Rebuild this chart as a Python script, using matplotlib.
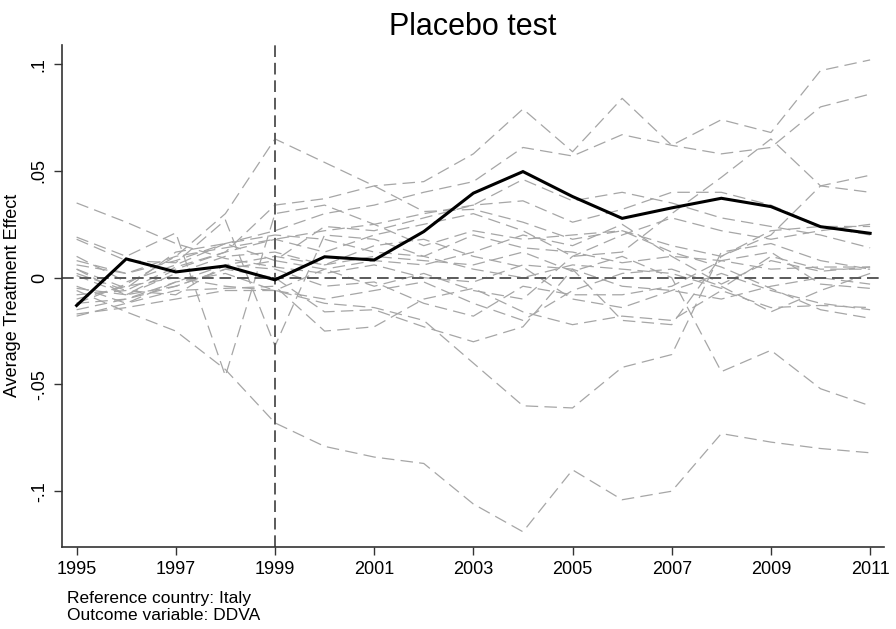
import matplotlib
matplotlib.use("Agg")
import matplotlib.pyplot as plt

plt.rcParams['font.family'] = ['Liberation Sans', 'DejaVu Sans']

# anni e linea del paese trattato (Italia)
anni = list(range(1995, 2012))
italia = [-0.013, 0.0088, 0.0027, 0.0055, -0.001, 0.0098, 0.0083, 0.0216, 0.0396,
          0.0497, 0.038, 0.0278, 0.0327, 0.0372, 0.0333, 0.0239, 0.0208]

# linee placebo (altri paesi)
placebo_01 = [-0.006, -0.016, -0.025, -0.043, -0.068, -0.079, -0.084, -0.087, -0.106, -0.119, -0.090, -0.104, -0.100, -0.073, -0.077, -0.080, -0.082]
placebo_02 = [-0.010, -0.004, 0.000, -0.004, -0.006, -0.012, -0.014, -0.020, -0.040, -0.060, -0.061, -0.042, -0.036, 0.012, 0.016, 0.008, 0.004]
placebo_03 = [0.004, -0.008, 0.002, 0.010, 0.012, 0.006, 0.010, 0.008, 0.006, 0.012, 0.003, 0.010, 0.000, -0.044, -0.034, -0.052, -0.060]
placebo_04 = [0.018, 0.008, 0.007, 0.027, -0.032, 0.020, 0.018, 0.010, 0.020, 0.014, 0.012, 0.007, 0.010, 0.008, 0.004, 0.005, 0.005]
placebo_05 = [0.019, 0.010, 0.021, -0.046, 0.030, 0.034, 0.025, 0.015, 0.022, 0.018, 0.020, 0.022, 0.015, 0.010, 0.020, 0.043, 0.048]
placebo_06 = [-0.012, -0.003, 0.010, 0.030, 0.065, 0.054, 0.043, 0.031, 0.032, 0.026, 0.018, 0.022, 0.012, 0.005, -0.005, -0.015, -0.019]
placebo_07 = [-0.005, -0.008, 0.004, 0.012, 0.034, 0.037, 0.043, 0.045, 0.058, 0.079, 0.059, 0.084, 0.062, 0.074, 0.068, 0.097, 0.102]
placebo_08 = [0.006, 0.002, 0.008, 0.016, 0.022, 0.030, 0.034, 0.040, 0.045, 0.061, 0.057, 0.067, 0.062, 0.058, 0.061, 0.080, 0.086]
placebo_09 = [0.002, -0.006, 0.005, 0.012, 0.018, 0.012, 0.020, 0.025, 0.030, 0.022, 0.010, 0.012, 0.030, 0.047, 0.065, 0.043, 0.040]
placebo_10 = [0.035, 0.026, 0.016, 0.009, 0.005, 0.002, 0.006, 0.000, -0.002, 0.006, 0.004, -0.004, -0.006, -0.010, -0.004, 0.000, -0.003]
placebo_11 = [-0.018, -0.012, -0.006, -0.005, -0.004, -0.025, -0.023, -0.010, -0.005, -0.016, -0.022, -0.018, -0.020, -0.006, -0.014, -0.013, -0.014]
placebo_12 = [-0.015, -0.010, -0.004, 0.004, 0.000, -0.016, -0.015, -0.023, -0.030, -0.023, 0.004, -0.020, -0.022, 0.010, 0.022, 0.024, 0.024]
placebo_13 = [-0.004, -0.012, -0.002, 0.006, 0.010, 0.006, 0.015, 0.018, 0.010, 0.005, -0.010, -0.014, -0.006, 0.002, -0.006, -0.012, -0.015]
placebo_14 = [0.010, -0.002, 0.006, 0.016, 0.020, 0.018, 0.012, 0.010, 0.004, 0.000, 0.006, 0.004, 0.002, -0.005, 0.010, 0.004, 0.004]
placebo_15 = [0.001, -0.008, -0.004, 0.004, 0.008, 0.004, -0.004, 0.002, -0.006, -0.010, 0.010, 0.020, 0.028, 0.022, 0.018, 0.022, 0.025]
placebo_16 = [-0.017, -0.014, -0.010, -0.006, -0.006, 0.004, 0.008, 0.006, 0.012, 0.020, 0.015, 0.025, 0.010, -0.003, 0.008, 0.003, 0.005]
placebo_17 = [0.008, 0.002, 0.010, 0.014, 0.018, 0.022, 0.025, 0.030, 0.034, 0.036, 0.026, 0.032, 0.040, 0.040, 0.034, 0.024, 0.020]
placebo_18 = [-0.008, -0.006, -0.008, 0.006, 0.004, -0.004, -0.002, -0.012, -0.018, -0.004, -0.008, -0.008, -0.004, 0.008, 0.012, -0.003, -0.005]
placebo_19 = [0.004, -0.005, 0.012, 0.016, 0.008, 0.024, 0.022, 0.028, 0.034, 0.046, 0.036, 0.040, 0.035, 0.028, 0.024, 0.020, 0.014]
placebo_20 = [-0.012, -0.010, -0.002, 0.002, -0.006, -0.010, -0.006, -0.002, -0.012, -0.020, -0.006, 0.002, 0.004, -0.004, -0.016, -0.006, 0.002]

placebo = [placebo_01, placebo_02, placebo_03, placebo_04, placebo_05,
           placebo_06, placebo_07, placebo_08, placebo_09, placebo_10,
           placebo_11, placebo_12, placebo_13, placebo_14, placebo_15,
           placebo_16, placebo_17, placebo_18, placebo_19, placebo_20]

anni_tick = [1995, 1997, 1999, 2001, 2003, 2005, 2007, 2009, 2011]
y_tick = [-0.1, -0.05, 0, 0.05, 0.1]
y_tick_label = ["-.1", "-.05", "0", ".05", ".1"]
anno_trattamento = 1999

fig = plt.figure(figsize=(8.96, 6.29), dpi=100)
ax = fig.add_axes([0.0689, 0.1308, 0.9177, 0.7977])

for serie in placebo:
    ax.plot(anni, serie, color='#a6a6a6', lw=0.9, dashes=(10, 5))

ax.axhline(0, color='#5a5a5a', lw=1.4, dashes=(6, 3))
ax.axvline(anno_trattamento, color='#5a5a5a', lw=1.4, dashes=(6, 3))

ax.plot(anni, italia, color='black', lw=2.2, solid_joinstyle='miter')

ax.set_xlim(1994.7, 2011.28)
ax.set_ylim(-0.126, 0.109)
ax.set_xticks(anni_tick)
ax.set_yticks(y_tick)
ax.set_yticklabels(y_tick_label, rotation=90, va='center')
ax.tick_params(axis='both', labelsize=13, length=6, width=1, color='#333333', pad=4)

for lato in ['top', 'right']:
    ax.spines[lato].set_visible(False)
for lato in ['left', 'bottom']:
    ax.spines[lato].set_color('#333333')
    ax.spines[lato].set_linewidth(1.2)

ax.set_ylabel("Average Treatment Effect", fontsize=13, labelpad=7)
ax.set_title("Placebo test", fontsize=22, pad=7)

fig.text(0.0745, 0.049, "Reference country: Italy", fontsize=12.5, va='center')
fig.text(0.0745, 0.022, "Outcome variable: DDVA", fontsize=12.5, va='center')

fig.savefig("out.png", dpi=100)
